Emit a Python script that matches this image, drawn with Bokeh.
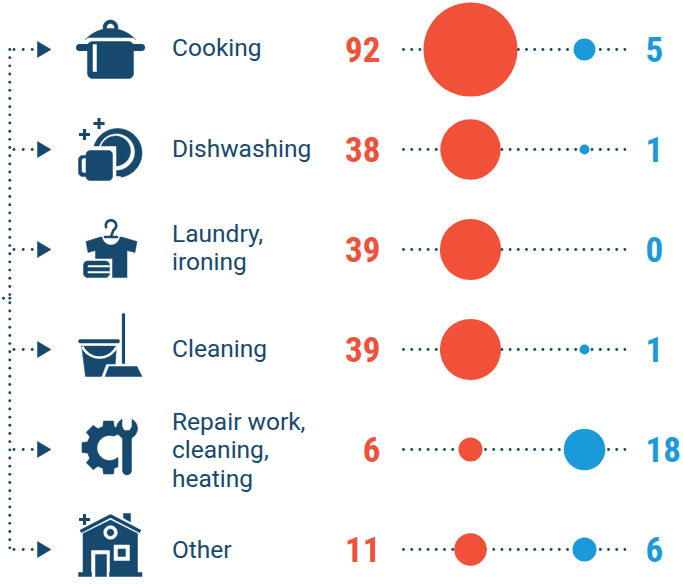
import numpy as np
from bokeh.plotting import figure
from bokeh.models import ColumnDataSource
from bokeh.core.properties import value
from bokeh.embed import file_html
from bokeh.resources import INLINE

categories = ["Cooking", "Dishwashing", "Laundry,\nironing", "Cleaning",
              "Repair work,\ncleaning,\nheating", "Other"]
red_values = [92, 38, 39, 39, 6, 11]
blue_values = [5, 1, 0, 1, 18, 6]

NAVY, RED, BLUE, WHITE = "#17496e", "#f15039", "#1a9ad8", "#ffffff"
ROW_Y = [49, 149, 249, 349, 449, 549]
LABEL_SHIFT = [-2, -1.5, -2, -1.5, 0, 0]
RED_X, BLUE_X = 470, 584
LABEL_FONT, NUM_FONT = "Roboto", "Roboto Condensed, DejaVu Sans Condensed, Roboto"

p = figure(width=683, height=584, x_range=(0, 683), y_range=(584, 0),
           output_backend="svg", toolbar_location=None, min_border=0,
           outline_line_color=None)
p.axis.visible = False
p.grid.visible = False

def poly(pts, color=NAVY):
    a = np.array(pts, dtype=float)
    p.patch(a[:, 0], a[:, 1], fill_color=color, line_color=color, line_width=0.5)

def arc(cx, cy, r, a0, a1, n=40):
    t = np.radians(np.linspace(a0, a1, n))
    return list(zip(cx + r * np.cos(t), cy + r * np.sin(t)))

def disc(cx, cy, r, color=NAVY):
    poly(arc(cx, cy, r, 0, 360, 60), color)

def rect(x0, y0, x1, y1, color=NAVY):
    poly([(x0, y0), (x1, y0), (x1, y1), (x0, y1)], color)

def rrect(x0, y0, x1, y1, r, color=NAVY):
    poly(arc(x1 - r, y0 + r, r, -90, 0, 10) + arc(x1 - r, y1 - r, r, 0, 90, 10)
         + arc(x0 + r, y1 - r, r, 90, 180, 10) + arc(x0 + r, y0 + r, r, 180, 270, 10), color)

def stroke(pts, w, color=NAVY, cap="round"):
    a = np.array(pts, dtype=float)
    p.line(a[:, 0], a[:, 1], line_color=color, line_width=w, line_cap=cap, line_join="round")

def plus(cx, cy, s=5, w=3):
    stroke([(cx - s, cy), (cx + s, cy)], w, cap="butt")
    stroke([(cx, cy - s), (cx, cy + s)], w, cap="butt")

def dots(xs, ys):
    p.scatter(xs, ys, size=2.9, fill_color=NAVY, line_color=None)

def pot():
    disc(110, 27, 7.5); disc(110, 27, 3.5, WHITE)
    poly([(87, 37)] + arc(110, 62, 34, 222, 318) + [(133, 37)])
    rrect(87, 41, 133, 78, 5)
    rect(92.5, 44, 96, 71, WHITE)
    stroke([(79, 47), (87, 47)], 7); stroke([(133, 47), (141, 47)], 7)

def dishes():
    cx, cy = 117, 152.5
    disc(cx, cy, 24.5); disc(cx - 1, cy - 1, 18, WHITE); disc(cx - 2, cy - 2, 15)
    rect(70, 146, 115.5, 185, WHITE)
    rect(115.5, 176, 120, 185, WHITE)
    rrect(78, 155, 90, 176, 4)
    rrect(81.5, 158, 90, 172, 2, WHITE)
    rrect(85.5, 150, 112, 180, 4)
    plus(84, 134, 5.5); plus(98.5, 123, 5.5)

def shirt():
    poly([(101.5, 236), (119.5, 236), (136.5, 241), (134.5, 252), (126.5, 250), (126.5, 277),
          (112, 277), (112, 258), (95, 258), (95, 250), (87.5, 252), (85.5, 241)])
    disc(110.5, 235.5, 8.5, WHITE)
    rect(100, 230, 121, 236, WHITE)
    stroke(arc(110.5, 225, 5.2, -200, 60, 24) + [(110.5, 236)], 2.6)
    stroke([(104.5, 236.5), (116.5, 236.5)], 2.6)
    rrect(83, 260.5, 109, 277, 4)
    rect(87.5, 265, 109, 266.5, WHITE)
    rect(87.5, 271, 109, 272.5, WHITE)

def cleaning():
    poly([(81, 345), (116, 345), (114, 376), (85, 376)])
    stroke(arc(99, 338, 19, 155, 25, 24), 2.6, WHITE, cap="butt")
    rect(78, 342.5, 119, 345, WHITE)
    rrect(78, 339, 119, 342.5, 1.5)
    stroke([(123, 314), (123, 362)], 3.2)
    poly([(106, 364), (140, 364), (146, 380), (100, 380)], WHITE)
    poly([(108.5, 366), (136.5, 366), (141.5, 376), (104.5, 376)])

def repair():
    cx, cy = 108, 447
    n = 8
    disc(cx, cy, 21.5)
    for i in range(n):
        c = np.radians(i * 360 / n)
        d = np.array([np.cos(c), np.sin(c)]); e = np.array([-d[1], d[0]])
        o = np.array([cx, cy])
        poly([o + d * 18 - e * 6, o + d * 26.5 - e * 5, o + d * 26.5 + e * 5, o + d * 18 + e * 6])
    disc(cx + 1, cy + 0.5, 12, WHITE)
    rect(118, 415, 140, 480, WHITE)
    poly([(109, 438), (118, 434), (118, 457), (109, 452)], WHITE)
    stroke([(126.5, 432), (126.5, 470)], 9.5)
    disc(126.5, 428, 10.5)
    poly([(122, 414), (131, 414), (131, 426), (129, 429.5), (124, 429.5), (122, 426)], WHITE)

def house():
    plus(84, 519, 5.5)
    poly([(123, 513), (130, 513), (130, 521.5), (123, 517.5)])
    stroke([(80, 531), (110, 515.5), (140, 531)], 3.4, cap="butt")
    poly([(82.5, 574), (82.5, 533), (110, 519.5), (137, 533), (137, 574)])
    disc(110, 532, 6.8, WHITE); disc(110, 532, 3.4)
    rect(91, 550, 109, 576, WHITE); rect(95, 554, 106, 576)
    rect(78, 572, 91, 576); rect(109, 572, 141.5, 576)
    rect(113.5, 544.5, 129, 560, WHITE); rect(117.5, 548.5, 125, 556)

# Left bracket of dotted connectors with arrows
vy = np.arange(49, 549.1, 8.17)
dots(np.full(len(vy), 9.3), vy)
dots([3, 9.3], [297.8, 297.8])
for y in ROW_Y:
    dots([13.5, 22.7, 31.7], [y, y, y])
    poly([(37, y - 8), (50.5, y), (37, y + 8)])

# Row dotted lines and proportional circles
for y in ROW_Y:
    hx = np.arange(403, 625.1, 8.2)
    dots(hx, np.full(len(hx), y))

R_MAX, V_MAX = 47, max(red_values)
radius = lambda v: R_MAX * np.sqrt(np.array(v, dtype=float) / V_MAX)
red_src = ColumnDataSource(dict(x=[RED_X] * 6, y=ROW_Y, ty=[y for y in ROW_Y], tx=[380] * 6,
                                size=2 * radius(red_values), lab=[str(v) for v in red_values]))
blue_src = ColumnDataSource(dict(x=[BLUE_X] * 6, y=ROW_Y, ty=[y for y in ROW_Y], tx=[645] * 6,
                                 size=2 * radius(blue_values), lab=[str(v) for v in blue_values]))
p.scatter("x", "y", size="size", source=red_src, fill_color=RED, line_color=None)
p.scatter("x", "y", size="size", source=blue_src, fill_color=BLUE, line_color=None)

# Numbers
p.text(x="tx", y="ty", text="lab", source=red_src,
       text_font=value(NUM_FONT), text_font_style="bold", text_font_size="35px",
       text_color=RED, text_align="right", text_baseline="middle")
p.text(x="tx", y="ty", text="lab", source=blue_src,
       text_font=value(NUM_FONT), text_font_style="bold", text_font_size="35px",
       text_color=BLUE, text_align="left", text_baseline="middle")

# Category labels
lx, ly, lt = [], [], []
for cat, y, dy in zip(categories, ROW_Y, LABEL_SHIFT):
    lines = cat.split("\n")
    for i, s in enumerate(lines):
        lx.append(171.5); ly.append(y + dy + (i - (len(lines) - 1) / 2) * 28.5); lt.append(s)
p.text(lx, ly, text=lt, text_font=value(LABEL_FONT), text_font_style="normal",
       text_font_size="24.5px", text_color=NAVY, text_align="left", text_baseline="middle")

for draw in (pot, dishes, shirt, cleaning, repair, house):
    draw()

open("out.html", "w").write(file_html(p, INLINE))
